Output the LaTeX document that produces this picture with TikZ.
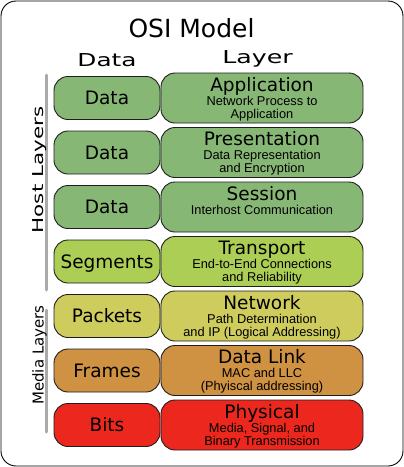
\documentclass[tikz,border=0pt]{standalone}
\usepackage{fontspec}
\setmainfont{DejaVu Sans}
\newfontfamily\subf{Liberation Sans}
\definecolor{cG}{RGB}{135,183,117}
\definecolor{cT}{RGB}{172,206,84}
\definecolor{cN}{RGB}{205,204,92}
\definecolor{cD}{RGB}{207,145,66}
\definecolor{cP}{RGB}{236,40,30}
\definecolor{edge}{RGB}{30,30,30}
\definecolor{barc}{RGB}{170,170,170}
\newcommand{\wide}[2]{\scalebox{#1}[1]{#2}}
\tikzset{
  outerbox/.style={draw=black, line width=0.9pt, rounded corners=15pt},
  lbox/.style={draw=edge, line width=0.9pt, rounded corners=14pt, minimum width=106pt, minimum height=43pt, inner sep=0pt, text height=13pt, text depth=0pt, font=\fontsize{18.5}{20}\selectfont},
  rbox/.style={draw=edge, line width=0.9pt, rounded corners=14pt, minimum width=202pt, minimum height=50pt, inner sep=0pt},
  ttl/.style={anchor=base, inner sep=0pt, font=\fontsize{18.5}{20}\selectfont},
  sub/.style={anchor=base, inner sep=0pt, font=\subf\fontsize{12.8}{13}\selectfont},
  hdr/.style={anchor=base, inner sep=0pt, font=\fontsize{17.8}{20}\selectfont},
  bar/.style={line width=3pt, draw=barc, line cap=round}
}
\begin{document}
\begin{tikzpicture}[x=1pt,y=-1pt]
\useasboundingbox (0,0) rectangle (404,467);
\draw[outerbox] (1,1) rectangle (403,466);
\node[anchor=base, inner sep=0pt, font=\fontsize{25}{28}\selectfont] (title) at (191.5,37) {OSI Model};
\node[hdr] (hdata) at (107,66) {\wide{1.39}{Data}};
\node[hdr] (hlayer) at (257.5,63) {\wide{1.42}{Layer}};
% side bars
\coordinate (hb1) at (46,75);
\coordinate (hb2) at (46,290);
\coordinate (mb1) at (46,310);
\coordinate (mb2) at (46,432);
\draw[bar] (hb1) -- (hb2);
\draw[bar] (mb1) -- (mb2);
\node[rotate=90, anchor=base, inner sep=0pt, font=\fontsize{15}{16}\selectfont] (host) at (43.5,170) {\wide{1.43}{Host Layers}};
\node[rotate=90, anchor=base, inner sep=0pt, font=\fontsize{15}{16}\selectfont] (media) at (43.5,355) {Media Layers};
% row 7 Application
\node[lbox, fill=cG] (l7) at (107,98) {Data};
\node[rbox, fill=cG] (r7) at (262,98) {};
\node[ttl] (t7) at (262,91) {Application};
\node[sub] (s7a) at (262,105) {Network Process to};
\node[sub] (s7b) at (262,118) {Application};
% row 6 Presentation
\node[lbox, fill=cG] (l6) at (107,152.5) {Data};
\node[rbox, fill=cG] (r6) at (262,152.5) {};
\node[ttl] (t6) at (262,145.5) {Presentation};
\node[sub] (s6a) at (262,159.5) {Data Representation};
\node[sub] (s6b) at (262,172.5) {and Encryption};
% row 5 Session
\node[lbox, fill=cG] (l5) at (107,207) {Data};
\node[rbox, fill=cG] (r5) at (262,207) {};
\node[ttl] (t5) at (262,200) {Session};
\node[sub] (s5a) at (262,214) {Interhost Communication};
% row 4 Transport
\node[lbox, fill=cT] (l4) at (107,261.5) {Segments};
\node[rbox, fill=cT] (r4) at (262,261.5) {};
\node[ttl] (t4) at (262,254.5) {Transport};
\node[sub] (s4a) at (262,268.5) {End-to-End Connections};
\node[sub] (s4b) at (262,281.5) {and Reliability};
% row 3 Network
\node[lbox, fill=cN] (l3) at (107,316) {Packets};
\node[rbox, fill=cN] (r3) at (262,316) {};
\node[ttl] (t3) at (262,309) {Network};
\node[sub] (s3a) at (262,323) {Path Determination};
\node[sub] (s3b) at (262,336) {and IP (Logical Addressing)};
% row 2 Data Link
\node[lbox, fill=cD] (l2) at (107,370.5) {Frames};
\node[rbox, fill=cD] (r2) at (262,370.5) {};
\node[ttl] (t2) at (262,363.5) {Data Link};
\node[sub] (s2a) at (262,377.5) {MAC and LLC};
\node[sub] (s2b) at (262,390.5) {(Phyiscal addressing)};
% row 1 Physical
\node[lbox, fill=cP] (l1) at (107,425) {Bits};
\node[rbox, fill=cP] (r1) at (262,425) {};
\node[ttl] (t1) at (262,418) {Physical};
\node[sub] (s1a) at (262,432) {Media, Signal, and};
\node[sub] (s1b) at (262,445) {Binary Transmission};
\end{tikzpicture}
\end{document}
